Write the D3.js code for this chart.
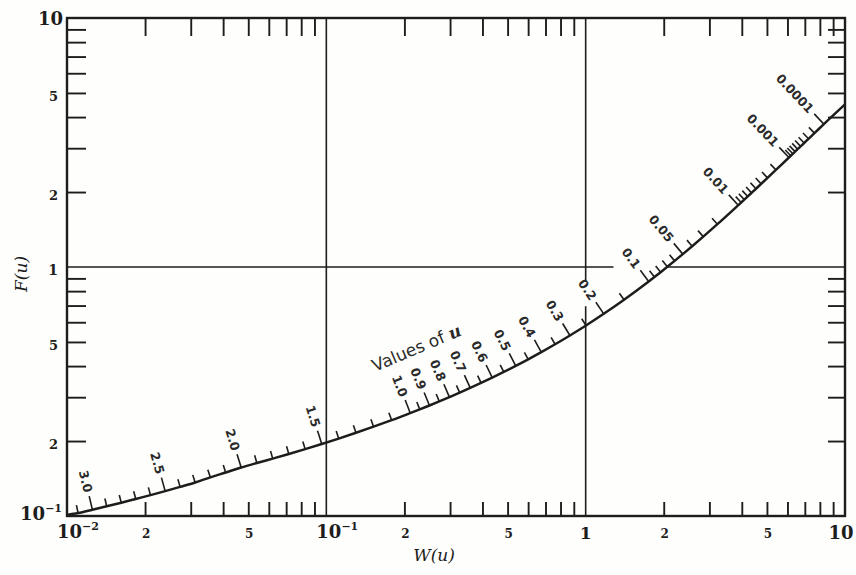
<!DOCTYPE html>
<html><head><meta charset="utf-8">
<script src="https://cdn.jsdelivr.net/npm/d3@7"></script>
<style>body{margin:0;background:#fff}svg{display:block}</style>
</head><body>
<svg id="chart" width="856" height="575"></svg>
<script>
// ---- data ----
const uValues = [3.1,3.0,2.9,2.8,2.7,2.6,2.5,2.4,2.3,2.2,2.1,2.0,1.9,1.8,1.7,1.6,1.5,1.4,1.3,1.2,1.1,1.0,
  0.95,0.9,0.85,0.8,0.75,0.7,0.65,0.6,0.55,0.5,0.45,0.4,0.35,0.3,0.25,0.2,
  0.15,0.1,
  0.09,0.08,0.07,0.06,0.05,0.04,0.03,0.02,
  0.01,
  0.009,0.008,0.007,0.006,0.005,0.004,0.003,0.002,0.001,
  0.0009,0.0008,0.0007,0.0006,0.0005,0.0004,0.0003,0.0002,0.0001];
const wValues = [0.01103,0.01253,0.01423,0.01619,0.01841,0.02098,0.02391,0.02730,0.03120,0.03570,0.04091,0.04694,0.05395,0.06212,0.07166,0.08286,0.09600,0.1116,0.1301,0.1521,0.1786,0.2106,
  0.2292,0.2498,0.2726,0.2982,0.3267,0.3588,0.3950,0.4362,0.4833,0.5374,0.6003,0.6743,0.7624,0.8695,1.003,1.174,
  1.406,1.750,
  1.842,1.946,2.065,2.203,2.369,2.574,2.841,3.221,
  3.876,
  3.977,4.089,4.216,4.363,4.537,4.750,5.026,5.414,6.078,
  6.179,6.292,6.420,6.568,6.743,6.957,7.233,7.623,8.288];
const fValues = [0.1028,0.1060,0.1094,0.1131,0.1171,0.1213,0.1259,0.1309,0.1363,0.1430,0.1495,0.1565,0.1632,0.1700,0.1774,0.1856,0.1946,0.2046,0.2159,0.2284,0.2426,0.2590,
  0.2680,0.2779,0.2885,0.3002,0.3128,0.3268,0.3423,0.3595,0.3789,0.4008,0.4258,0.4550,0.4894,0.5309,0.5822,0.6485,
  0.7388,0.8748,
  0.9116,0.9534,1.0017,1.0583,1.1265,1.212,1.324,1.486,
  1.771,
  1.815,1.864,1.920,1.985,2.062,2.157,2.280,2.454,2.752,
  2.797,2.848,2.906,2.973,3.052,3.148,3.273,3.448,3.749];
const curveEndW = [0.01, 10];
const curveEndF = [0.101, 4.5];
const uLabels = ["3.0","2.5","2.0","1.5","1.0","0.9","0.8","0.7","0.6","0.5","0.4","0.3","0.2","0.1","0.05","0.01","0.001","0.0001"];

const xLabelValues = [0.01,0.02,0.05,0.1,0.2,0.5,1,2,5,10];
const xLabelTexts  = ["10^−2","2","5","10^−1","2","5","1","2","5","10"];
const yLabelValues = [0.1,0.2,0.5,1,2,5,10];
const yLabelTexts  = ["10^−1","2","5","1","2","5","10"];

// ---- drawing ----
const ink = "#1d1d1d";
const svg = d3.select("#chart");
svg.append("rect").attr("width",856).attr("height",575).attr("fill","#fefefc");

const x = d3.scaleLog().domain([0.01,10]).range([67,845]);
const y = d3.scaleLog().domain([0.1,10]).range([516,18]);

const isDecade = v => Math.abs(Math.log10(v) - Math.round(Math.log10(v))) < 1e-9;
const xMinor = x.ticks().filter(v => !isDecade(v));
const yMinor = y.ticks().filter(v => !isDecade(v));

function styleAxis(g){
  g.select(".domain").remove();
  g.selectAll(".tick line").attr("stroke",ink).attr("stroke-width",1.9);
  g.selectAll(".tick text").remove();
}
svg.append("g").attr("transform","translate(0,516)")
  .call(d3.axisBottom(x).tickValues(xMinor).tickSize(-14).tickFormat("")).call(styleAxis);
svg.append("g").attr("transform","translate(0,18)")
  .call(d3.axisTop(x).tickValues(xMinor).tickSize(-18).tickFormat("")).call(styleAxis);
svg.append("g").attr("transform","translate(67,0)")
  .call(d3.axisLeft(y).tickValues(yMinor).tickSize(-19).tickFormat("")).call(styleAxis);
svg.append("g").attr("transform","translate(845,0)")
  .call(d3.axisRight(y).tickValues(yMinor).tickSize(-17).tickFormat("")).call(styleAxis);

// grid lines at decades (with gaps as in the figure)
const grid = svg.append("g").attr("stroke",ink).attr("stroke-width",1.6);
const seg = (x1,y1,x2,y2)=>grid.append("line").attr("x1",x1).attr("y1",y1).attr("x2",x2).attr("y2",y2);
seg(x(0.1),y(10),x(0.1),y(0.1));
seg(x(1),y(10),x(1),y(0.87));
seg(x(1),y(0.696),x(1),y(0.1));
seg(x(0.01),y(1),x(1.28),y(1));
seg(x(2.06),y(1),x(10),y(1));

// frame
svg.append("rect").attr("x",67).attr("y",18).attr("width",845-67).attr("height",516-18)
  .attr("fill","none").attr("stroke",ink).attr("stroke-width",2.4);

// curve
const pts = [[curveEndW[0],curveEndF[0]]]
  .concat(uValues.map((u,i)=>[wValues[i],fValues[i]]))
  .concat([[curveEndW[1],curveEndF[1]]]);
const line = d3.line().x(d=>x(d[0])).y(d=>y(d[1])).curve(d3.curveMonotoneX);
svg.append("path").attr("d",line(pts)).attr("fill","none").attr("stroke",ink).attr("stroke-width",2.5);

// u ticks and labels
const tg = svg.append("g");
uValues.forEach((u,i)=>{
  const k = i+1;
  const p0 = pts[k-1], p1 = pts[k+1];
  const a = Math.atan2(y(p1[1])-y(p0[1]), x(p1[0])-x(p0[0]));
  const nx = Math.sin(a), ny = -Math.cos(a);
  const bx = x(wValues[i]), by = y(fValues[i]);
  const lab = uLabels.find(s => +s === u);
  const len = lab ? 14 : 8;
  tg.append("line").attr("x1",bx).attr("y1",by)
    .attr("x2",bx+nx*len).attr("y2",by+ny*len)
    .attr("stroke",ink).attr("stroke-width",1.6);
  if(lab){
    const px = bx+nx*(len+4), py = by+ny*(len+4);
    tg.append("text").attr("x",px).attr("y",py).attr("dy","0.36em")
      .attr("text-anchor","end")
      .attr("transform",`rotate(${a*180/Math.PI+90},${px},${py})`)
      .attr("font-family","DejaVu Sans, sans-serif").attr("font-size",12.5).attr("font-weight","bold")
      .attr("fill","#2a2a2a").text(lab);
  }
});

// "Values of u"
const vt = svg.append("text").attr("x",375).attr("y",372)
  .attr("transform","rotate(-23,375,372)")
  .attr("font-family","DejaVu Sans, sans-serif").attr("font-size",17).attr("fill","#2a2a2a");
vt.append("tspan").text("Values of ");
vt.append("tspan").attr("font-family","DejaVu Serif, serif").attr("font-style","italic").attr("font-weight","bold").text("u");

// axis tick labels
const numFont = "DejaVu Serif, serif";
function powerLabel(sel, txt, bigSize, supSize){
  const [b,e] = txt.split("^");
  sel.append("tspan").attr("font-size",bigSize).text(b);
  sel.append("tspan").attr("font-size",supSize).attr("dy",-8).text(e);
}
xLabelValues.forEach((v,i)=>{
  const t = xLabelTexts[i];
  const el = svg.append("text").attr("font-family",numFont).attr("font-weight","bold").attr("fill",ink);
  if(t.includes("^")){
    el.attr("x",x(v)-10).attr("y",538).attr("text-anchor","start");
    powerLabel(el,t,18,11);
  } else if(t==="10"){
    el.attr("x",x(v)-4).attr("y",539).attr("text-anchor","middle").attr("font-size",18).text(t);
  } else if(t==="1"){
    el.attr("x",x(v)).attr("y",539).attr("text-anchor","middle").attr("font-size",17).text(t);
  } else {
    el.attr("x",x(v)+1).attr("y",538).attr("text-anchor","middle").attr("font-size",12).text(t);
  }
});
yLabelValues.forEach((v,i)=>{
  const t = yLabelTexts[i];
  const el = svg.append("text").attr("font-family",numFont).attr("font-weight","bold").attr("fill",ink).attr("text-anchor","end");
  if(t.includes("^")){
    el.attr("x",62).attr("y",520);
    powerLabel(el,t,18,11);
  } else if(t==="10"){
    el.attr("x",63).attr("y",y(v)+7).attr("font-size",18).text(t);
  } else {
    el.attr("x",58).attr("y",y(v)+8).attr("font-size",t==="1"?14:13).text(t);
  }
});

// axis titles
svg.append("text").attr("transform","translate(27,274) rotate(-90)")
  .attr("text-anchor","middle").attr("font-family","DejaVu Serif, serif").attr("font-style","italic")
  .attr("font-size",17).attr("fill",ink).text("F(u)");
svg.append("text").attr("x",434).attr("y",561).attr("text-anchor","middle")
  .attr("font-family","DejaVu Serif, serif").attr("font-style","italic")
  .attr("font-size",17).attr("fill",ink).text("W(u)");
</script>
</body></html>
